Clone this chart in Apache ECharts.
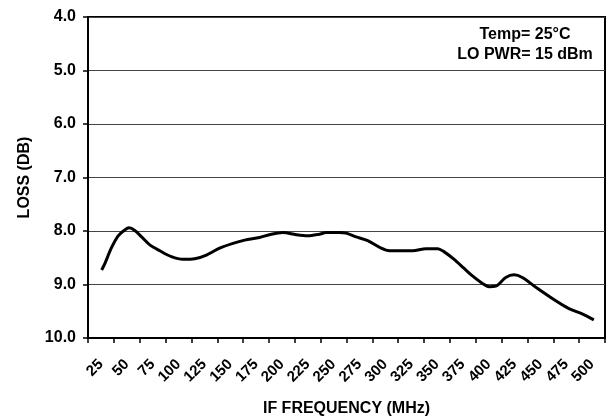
<!DOCTYPE html>
<html>
<head>
<meta charset="utf-8">
<script src="https://cdn.jsdelivr.net/npm/echarts@6/dist/echarts.min.js"></script>
<style>
html,body{margin:0;padding:0;background:#fff;}
#chart{width:608px;height:418px;}
</style>
</head>
<body>
<div id="chart"></div>
<script>
var categories = ['25','50','75','100','125','150','175','200','225','250','275','300','325','350','375','400','425','450','475','500'];
var freq = [25.7,29,35,41.7,48,52.3,57.8,64.3,72.3,82,93.2,104.4,115.7,127,139.8,152.7,164,178.4,188,201,213.8,225,236.3,242.8,255.6,262,271.8,283,296,304,326.4,339.3,350.5,357,366.6,376.3,384.3,394,400.4,406.9,416.5,424.5,432.5,447,463,477.6,490.4,501.7];
var loss = [8.73,8.60,8.32,8.09,7.98,7.94,7.99,8.11,8.26,8.37,8.48,8.53,8.52,8.45,8.32,8.23,8.17,8.12,8.07,8.03,8.07,8.09,8.06,8.03,8.03,8.04,8.11,8.18,8.32,8.37,8.37,8.33,8.33,8.39,8.53,8.70,8.84,8.98,9.04,9.03,8.87,8.82,8.87,9.07,9.28,9.45,9.55,9.66];
var yTicks = [4,5,6,7,8,9,10];
var annotations = ['Temp= 25°C','LO PWR= 15 dBm'];

var FONT = '"Liberation Sans", Arial, sans-serif';
var pts = freq.map(function(f,i){return [f, loss[i]];});

var chart = echarts.init(document.getElementById('chart'), null, {renderer:'canvas'});
chart.setOption({
  animation:false,
  backgroundColor:'#fff',
  grid:{left:88, top:17, right:3, bottom:80, containLabel:false, outerBoundsMode:'none', show:true, borderColor:'#000', borderWidth:2, backgroundColor:'transparent'},
  xAxis:[{
    type:'category', data:categories, boundaryGap:true, position:'bottom',
    axisLine:{lineStyle:{color:'#000', width:2}},
    axisTick:{show:true, length:5, lineStyle:{color:'#000', width:1.5}},
    axisLabel:{rotate:45, color:'#000', fontWeight:'bold', fontSize:15, fontFamily:FONT, margin:24, interval:0},
    splitLine:{show:false},
    name:'IF FREQUENCY (MHz)', nameLocation:'middle', nameGap:63,
    nameTextStyle:{color:'#000', fontWeight:'bold', fontSize:16, fontFamily:FONT}
  },{
    type:'value', min:12.5, max:512.5, show:false, position:'bottom'
  }],
  yAxis:{
    type:'value', inverse:true, min:yTicks[0], max:yTicks[yTicks.length-1], interval:1,
    axisLine:{show:true, lineStyle:{color:'#000', width:2}},
    axisTick:{show:true, length:5, lineStyle:{color:'#000', width:1.5}},
    axisLabel:{color:'#000', fontWeight:'bold', fontSize:16, fontFamily:FONT, margin:12,
      formatter:function(v){return v.toFixed(1);}},
    splitLine:{show:true, lineStyle:{color:'#444', width:1.2}},
    name:'LOSS (DB)', nameLocation:'middle', nameGap:55, nameRotate:90,
    nameTextStyle:{color:'#000', fontWeight:'bold', fontSize:16, fontFamily:FONT}
  },
  graphic:[
    {type:'text', x:525, y:35, style:{text:annotations[0], fill:'#000', font:'bold 16px '+FONT, textAlign:'center', textVerticalAlign:'middle'}},
    {type:'text', x:525, y:55, style:{text:annotations[1], fill:'#000', font:'bold 16px '+FONT, textAlign:'center', textVerticalAlign:'middle'}}
  ],
  series:[{
    type:'line', xAxisIndex:1, data:pts, smooth:0.3, symbol:'none',
    lineStyle:{color:'#000', width:3}
  }]
});
</script>
</body>
</html>
